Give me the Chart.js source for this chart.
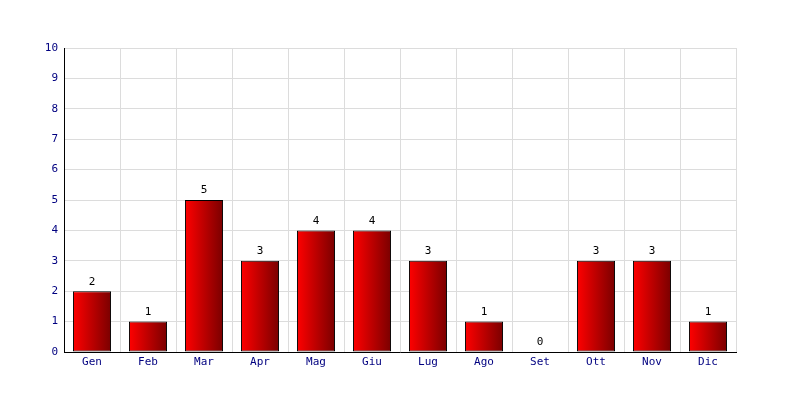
<!DOCTYPE html>
<html>
<head>
<meta charset="utf-8">
<script src="https://cdn.jsdelivr.net/npm/chart.js@4/dist/chart.umd.min.js"></script>
<style>
html,body{margin:0;padding:0;background:#fff;}
#wrap{width:800px;height:400px;position:relative;}
</style>
</head>
<body>
<div id="wrap"><canvas id="c" width="800" height="400"></canvas></div>
<script>
const categories = ["Gen","Feb","Mar","Apr","Mag","Giu","Lug","Ago","Set","Ott","Nov","Dic"];
const values = [2,1,5,3,4,4,3,1,0,3,3,1];
const yTicks = [0,1,2,3,4,5,6,7,8,9,10];

const FONT = "'DejaVu Sans Mono', monospace";
const BAR_PCT = 0.68;

function barFill(c) {
  const chart = c.chart;
  const xs = chart.scales && chart.scales.x;
  if (!xs || !chart.chartArea || c.dataIndex === undefined) return '#e00000';
  const cx = xs.getPixelForValue(c.dataIndex);
  const half = (xs.width / categories.length) * BAR_PCT / 2;
  const g = chart.ctx.createLinearGradient(cx - half, 0, cx + half, 0);
  g.addColorStop(0, '#ff0000');
  g.addColorStop(1, '#7a0000');
  return g;
}

const labelPlugin = {
  id: 'valLabels',
  afterDatasetsDraw(chart) {
    const ctx = chart.ctx;
    ctx.save();
    ctx.font = "11px " + FONT;
    ctx.fillStyle = '#000';
    ctx.textAlign = 'center';
    ctx.textBaseline = 'bottom';
    chart.getDatasetMeta(0).data.forEach((el, i) => {
      ctx.fillText(String(values[i]), el.x, el.y - 4);
    });
    ctx.restore();
  }
};

new Chart(document.getElementById('c'), {
  type: 'bar',
  data: {
    labels: categories,
    datasets: [{
      data: values,
      backgroundColor: barFill,
      borderColor: '#000',
      borderWidth: 1,
      borderSkipped: false,
      categoryPercentage: 1,
      barPercentage: BAR_PCT
    }]
  },
  options: {
    responsive: false,
    animation: false,
    layout: { padding: { left: 0, right: 64, top: 48, bottom: 0 } },
    plugins: { legend: { display: false }, tooltip: { enabled: false } },
    scales: {
      x: {
        grid: { color: '#dcdcdc', drawTicks: false, offset: true },
        border: { color: '#000', width: 1 },
        ticks: { color: '#000080', font: { family: FONT, size: 11 }, padding: 4, maxRotation: 0 },
        afterFit(s) { s.height = 48; }
      },
      y: {
        min: 0, max: 10,
        afterBuildTicks(s) { s.ticks = yTicks.map(v => ({ value: v })); },
        grid: { color: '#dcdcdc', drawTicks: false },
        border: { color: '#000', width: 1 },
        ticks: { color: '#000080', font: { family: FONT, size: 11 }, padding: 6 },
        afterFit(s) { s.width = 64; }
      }
    }
  },
  plugins: [labelPlugin]
});
</script>
</body>
</html>
